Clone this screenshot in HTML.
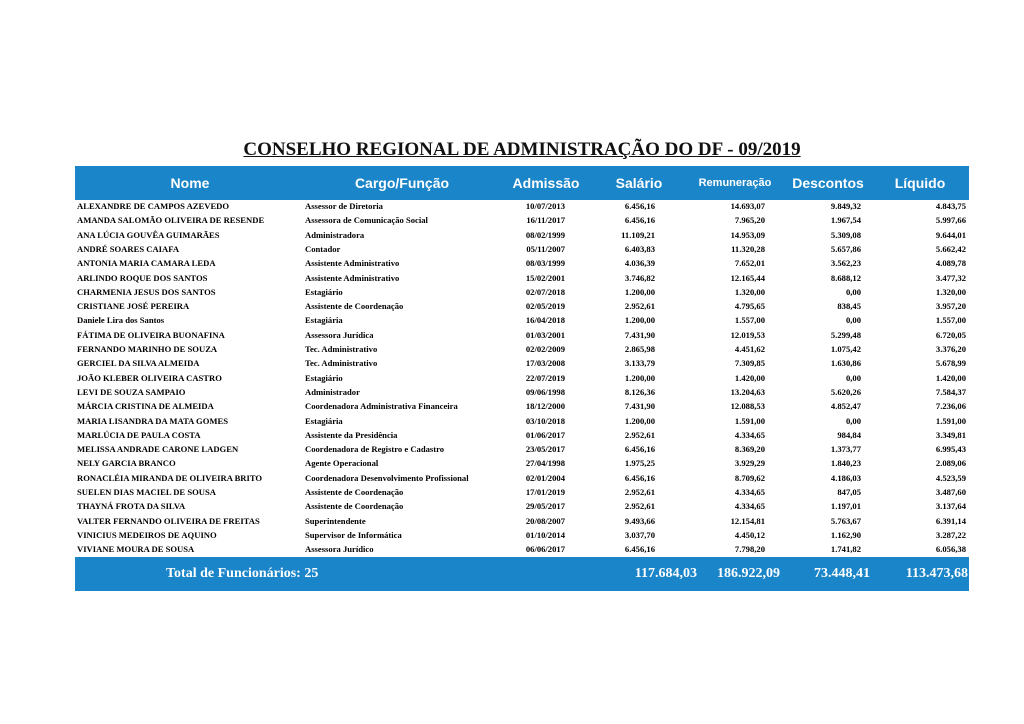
<!DOCTYPE html>
<html><head><meta charset="utf-8"><style>
body{margin:0;width:1024px;height:724px;background:#fff;position:relative;overflow:hidden;font-family:"Liberation Serif",serif;}
.t{position:absolute;left:0;width:1044px;top:139px;text-align:center;font-weight:bold;font-size:19px;text-decoration:underline;color:#111;}
.hb{position:absolute;left:75px;top:166px;width:894px;height:34px;background:#1a85c8;}
.h{position:absolute;top:175px;color:#fff;font-family:"Liberation Sans",sans-serif;font-weight:bold;font-size:14px;white-space:nowrap;transform:translateX(-50%);}
.r{position:absolute;left:0;width:1024px;height:14px;font-size:8.6px;color:#000;font-weight:bold;}
.r span{position:absolute;top:0;white-space:nowrap;}
.fb{position:absolute;left:75px;top:557px;width:894px;height:34px;background:#1a85c8;}
.f{position:absolute;top:566px;color:#fff;font-weight:bold;font-size:14px;white-space:nowrap;}
</style></head><body>
<div class="t">CONSELHO REGIONAL DE ADMINISTRAÇÃO DO DF - 09/2019</div>
<div class="hb"></div>
<div class="h" style="left:190px">Nome</div>
<div class="h" style="left:402px">Cargo/Função</div>
<div class="h" style="left:546px">Admissão</div>
<div class="h" style="left:639px">Salário</div>
<div class="h" style="left:735px;font-size:11px;top:177px">Remuneração</div>
<div class="h" style="left:828px">Descontos</div>
<div class="h" style="left:920px">Líquido</div>
<div id="rows"></div>
<div class="fb"></div>
<div class="f" style="left:166px">Total de Funcionários: 25</div>
<div class="f" style="right:327px">117.684,03</div>
<div class="f" style="right:244px">186.922,09</div>
<div class="f" style="right:154px">73.448,41</div>
<div class="f" style="right:56px">113.473,68</div>
<script>
var d=[
["ALEXANDRE DE CAMPOS AZEVEDO","Assessor de Diretoria","10/07/2013","6.456,16","14.693,07","9.849,32","4.843,75"],
["AMANDA SALOMÃO OLIVEIRA DE RESENDE","Assessora de Comunicação Social","16/11/2017","6.456,16","7.965,20","1.967,54","5.997,66"],
["ANA LÚCIA GOUVÊA GUIMARÃES","Administradora","08/02/1999","11.109,21","14.953,09","5.309,08","9.644,01"],
["ANDRÉ SOARES CAIAFA","Contador","05/11/2007","6.403,83","11.320,28","5.657,86","5.662,42"],
["ANTONIA MARIA CAMARA LEDA","Assistente Administrativo","08/03/1999","4.036,39","7.652,01","3.562,23","4.089,78"],
["ARLINDO ROQUE DOS SANTOS","Assistente Administrativo","15/02/2001","3.746,82","12.165,44","8.688,12","3.477,32"],
["CHARMENIA JESUS DOS SANTOS","Estagiário","02/07/2018","1.200,00","1.320,00","0,00","1.320,00"],
["CRISTIANE JOSÉ PEREIRA","Assistente de Coordenação","02/05/2019","2.952,61","4.795,65","838,45","3.957,20"],
["Daniele Lira dos Santos","Estagiária","16/04/2018","1.200,00","1.557,00","0,00","1.557,00"],
["FÁTIMA DE OLIVEIRA BUONAFINA","Assessora Jurídica","01/03/2001","7.431,90","12.019,53","5.299,48","6.720,05"],
["FERNANDO MARINHO DE SOUZA","Tec. Administrativo","02/02/2009","2.865,98","4.451,62","1.075,42","3.376,20"],
["GERCIEL DA SILVA ALMEIDA","Tec. Administrativo","17/03/2008","3.133,79","7.309,85","1.630,86","5.678,99"],
["JOÃO KLEBER OLIVEIRA CASTRO","Estagiário","22/07/2019","1.200,00","1.420,00","0,00","1.420,00"],
["LEVI DE SOUZA SAMPAIO","Administrador","09/06/1998","8.126,36","13.204,63","5.620,26","7.584,37"],
["MÁRCIA CRISTINA DE ALMEIDA","Coordenadora Administrativa Financeira","18/12/2000","7.431,90","12.088,53","4.852,47","7.236,06"],
["MARIA LISANDRA DA MATA GOMES","Estagiária","03/10/2018","1.200,00","1.591,00","0,00","1.591,00"],
["MARLÚCIA DE PAULA COSTA","Assistente da Presidência","01/06/2017","2.952,61","4.334,65","984,84","3.349,81"],
["MELISSA ANDRADE CARONE LADGEN","Coordenadora de Registro e Cadastro","23/05/2017","6.456,16","8.369,20","1.373,77","6.995,43"],
["NELY GARCIA BRANCO","Agente Operacional","27/04/1998","1.975,25","3.929,29","1.840,23","2.089,06"],
["RONACLÉIA MIRANDA DE OLIVEIRA BRITO","Coordenadora Desenvolvimento Profissional","02/01/2004","6.456,16","8.709,62","4.186,03","4.523,59"],
["SUELEN DIAS MACIEL DE SOUSA","Assistente de Coordenação","17/01/2019","2.952,61","4.334,65","847,05","3.487,60"],
["THAYNÁ FROTA DA SILVA","Assistente de Coordenação","29/05/2017","2.952,61","4.334,65","1.197,01","3.137,64"],
["VALTER FERNANDO OLIVEIRA DE FREITAS","Superintendente","20/08/2007","9.493,66","12.154,81","5.763,67","6.391,14"],
["VINICIUS MEDEIROS DE AQUINO","Supervisor de Informática","01/10/2014","3.037,70","4.450,12","1.162,90","3.287,22"],
["VIVIANE MOURA DE SOUSA","Assessora Jurídico","06/06/2017","6.456,16","7.798,20","1.741,82","6.056,38"]];
var h="";
d.forEach(function(r,i){var y=201+i*14.3;
h+='<div class="r" style="top:'+y+'px"><span style="left:77px">'+r[0]+'</span><span style="left:305px">'+r[1]+'</span>'+
'<span style="right:459px">'+r[2]+'</span><span style="right:369px">'+r[3]+'</span><span style="right:259px">'+r[4]+'</span>'+
'<span style="right:163px">'+r[5]+'</span><span style="right:58px">'+r[6]+'</span></div>';});
document.getElementById("rows").innerHTML=h;
</script>
</body></html>
